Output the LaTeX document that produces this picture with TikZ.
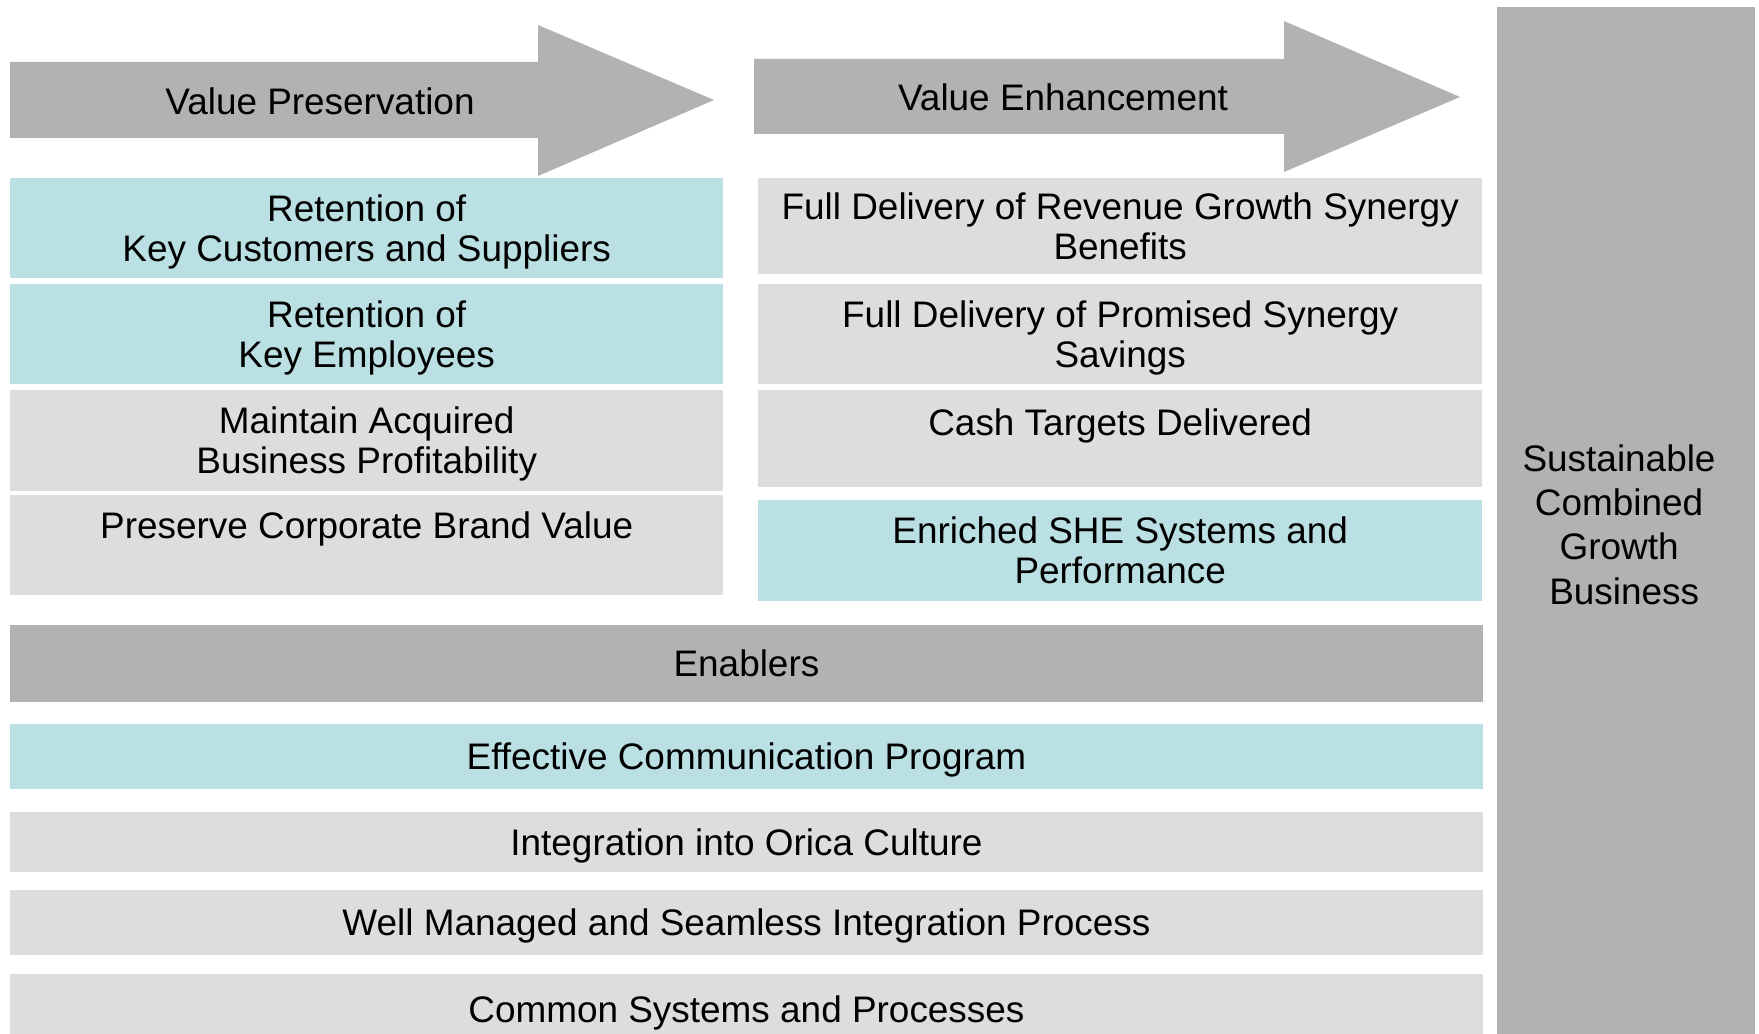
\documentclass[tikz,border=0pt]{standalone}
\usepackage{fontspec}
\setmainfont{Liberation Sans}
\usetikzlibrary{positioning}

\definecolor{tealbox}{HTML}{BAE0E3}
\definecolor{lightbox}{HTML}{DDDDDD}
\definecolor{darkbox}{HTML}{B2B2B2}

% taller first line, pushes the text a little down in its box
\newcommand\cellstrut{\rule{0pt}{9.7pt}}

\tikzset{
  cell/.style={anchor=north west, inner sep=0pt, outer sep=0pt,
    align=center, font=\fontsize{10.5}{11.4}\selectfont},
  headtext/.style={inner sep=0pt, font=\fontsize{10.5}{11.4}\selectfont},
}

\begin{document}
\begin{tikzpicture}[x=0.01cm, y=-0.01cm]

    \useasboundingbox[fill=white] (0,0) rectangle (1759,1034);

    % header arrows
    \fill [darkbox] (10,62) -- (538,62) -- (538,25) -- (714,100)
    -- (538,176) -- (538,138) -- (10,138) -- cycle;
    \node [headtext] (preserve) at (320,101) {Value Preservation};

    \fill [darkbox] (754,59) -- (1284,59) -- (1284,21) -- (1460,97)
    -- (1284,172) -- (1284,134) -- (754,134) -- cycle;
    \node [headtext] (enhance) at (1063,97) {Value Enhancement};

    % value preservation column
    \node [cell, fill=tealbox, minimum width=7.13cm, minimum height=1cm]
    (customers) at (10,178) {\cellstrut Retention of\\Key Customers and Suppliers};
    \node [cell, fill=tealbox, minimum width=7.13cm, minimum height=1cm]
    (employees) at (10,284) {\cellstrut Retention of\\Key Employees};
    \node [cell, fill=lightbox, minimum width=7.13cm, minimum height=1.005cm]
    (profit) at (10,390) {\cellstrut Maintain Acquired\\Business Profitability};
    \node [cell, fill=lightbox, minimum width=7.13cm, minimum height=1cm]
    (brand) at (10,495) {Preserve Corporate Brand Value\\\mbox{}};

    % value enhancement column
    \node [cell, fill=lightbox, minimum width=7.24cm, minimum height=0.96cm]
    (revenue) at (758,178) {Full Delivery of Revenue Growth Synergy\\Benefits};
    \node [cell, fill=lightbox, minimum width=7.24cm, minimum height=1cm]
    (savings) at (758,284) {\cellstrut Full Delivery of Promised Synergy\\Savings};
    \node [cell, fill=lightbox, minimum width=7.24cm, minimum height=0.97cm]
    (cash) at (758,390) {\cellstrut Cash Targets Delivered\\\mbox{}};
    \node [cell, fill=tealbox, minimum width=7.24cm, minimum height=1.005cm]
    (she) at (758,500) {Enriched SHE Systems and\\Performance};

    % enablers
    \node [cell, fill=darkbox, minimum width=14.72cm, minimum height=0.77cm]
    (enablers) at (10,625) {Enablers};

    \foreach \name/\ytop/\hgt/\col/\txt in {
      comms/724/0.65/tealbox/Effective Communication Program,
      culture/812/0.60/lightbox/Integration into Orica Culture,
      process/890/0.65/lightbox/Well Managed and Seamless Integration Process,
      systems/974/0.70/lightbox/Common Systems and Processes} {
      \node [cell, fill=\col, minimum width=14.72cm, minimum height=\hgt cm]
      (\name) at (10,\ytop) {\cellstrut\txt};
    }

    % outcome column
    \node [cell, fill=darkbox, minimum width=2.58cm, minimum height=10.27cm,
    font=\fontsize{10.5}{12.6}\selectfont]
    (outcome) at (1497,7)
    {\hspace*{-0.14cm}\parbox[c]{2.46cm}{\centering
        \cellstrut Sustainable\\Combined\\Growth\\\mbox{} Business}};

  \end{tikzpicture}
\end{document}
